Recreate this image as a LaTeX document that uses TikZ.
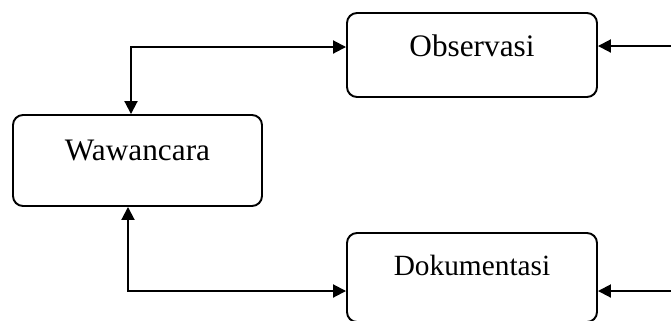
\documentclass[tikz,border=0pt]{standalone}
\usepackage{fontspec}
\setmainfont{Liberation Serif}
\usetikzlibrary{arrows.meta}
\begin{document}
\begin{tikzpicture}[main/.style = {draw, rounded corners=0.2cm, minimum width=5cm, inner sep=0pt, anchor=base}, >={Triangle[length=0.26cm, width=0.26cm]}, line width=1.1pt]
        \useasboundingbox (0,0) rectangle (13.42,-6.4);
        \node[main, minimum width=4.98cm, text height=0.9cm, text depth=0.92cm, font=\fontsize{17.8}{20}\selectfont] (w) at (2.75,-3.2) {Wawancara};
        \node[main, text height=0.86cm, text depth=0.82cm, font=\fontsize{17.8}{20}\selectfont] (o) at (9.44,-1.12) {Observasi};
        \node[main, text height=0.84cm, text depth=0.94cm, font=\fontsize{16.7}{19}\selectfont] (d) at (9.44,-5.5) {Dokumentasi};
        \coordinate (oin) at ([xshift=1.6cm, yshift=0.2cm]o.base east);
        \coordinate (din) at ([xshift=1.6cm, yshift=-0.32cm]d.base east);
        \draw[<->] ([xshift=-0.13cm]w.north) |- ([yshift=0.18cm]o.base west);
        \draw[<->] ([xshift=-0.19cm]w.south) |- ([yshift=-0.32cm]d.base west);
        \draw[->] (oin) -- ([yshift=0.2cm]o.base east);
        \draw[->] (din) -- ([yshift=-0.32cm]d.base east);
        %\draw[->] (w.east) -- (o.west);
\end{tikzpicture}
\end{document}
